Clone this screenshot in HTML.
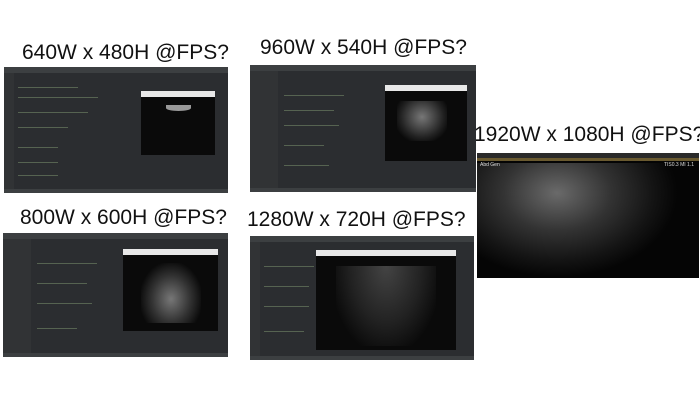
<!DOCTYPE html>
<html><head><meta charset="utf-8"><style>
body{margin:0;width:700px;height:400px;background:#fff;position:relative;overflow:hidden;font-family:"Liberation Sans",sans-serif}
.t{position:absolute;font-size:21px;color:#111;white-space:nowrap;line-height:1}
.s{position:absolute;background:#2b2d30;overflow:hidden}
.s .bar{position:absolute;left:0;right:0;top:0;height:6px;background:#3c3f41}
.s .side{position:absolute;left:0;top:6px;bottom:4px;width:10px;background:#313335}
.s .code{position:absolute;height:1px;background:#6a7a60;opacity:.7}
.s .foot{position:absolute;left:0;right:0;bottom:0;height:4px;background:#3c3f41}
.win{position:absolute;background:#0a0a0a;border-top:6px solid #e8e8e8}
.us{position:absolute;background:#050505;overflow:hidden}
</style></head><body>
<div class="t" style="left:22px;top:42px">640W x 480H @FPS?</div>
<div class="t" style="left:260px;top:37px">960W x 540H @FPS?</div>
<div class="t" style="left:474px;top:124px">1920W x 1080H @FPS?</div>
<div class="t" style="left:20px;top:207px">800W x 600H @FPS?</div>
<div class="t" style="left:247px;top:209px">1280W x 720H @FPS?</div>

<div class="s" style="left:4px;top:67px;width:224px;height:126px">
<div class="bar"></div><div class="side"></div><div class="foot"></div>
<div class="code" style="left:14px;top:20px;width:60px"></div><div class="code" style="left:14px;top:30px;width:80px"></div><div class="code" style="left:14px;top:45px;width:70px"></div><div class="code" style="left:14px;top:60px;width:50px"></div><div class="code" style="left:14px;top:80px;width:40px"></div><div class="code" style="left:14px;top:95px;width:40px"></div><div class="code" style="left:14px;top:108px;width:40px"></div>
<div class="win" style="left:137px;top:24px;width:74px;height:58px"><div style="position:absolute;left:25px;top:8px;width:25px;height:6px;border-radius:0 0 50% 50%;background:#999"></div></div>
</div>

<div class="s" style="left:250px;top:65px;width:226px;height:127px">
<div class="bar"></div><div class="side" style="width:28px"></div><div class="foot"></div>
<div class="code" style="left:34px;top:30px;width:60px"></div><div class="code" style="left:34px;top:45px;width:50px"></div><div class="code" style="left:34px;top:60px;width:55px"></div><div class="code" style="left:34px;top:80px;width:40px"></div><div class="code" style="left:34px;top:100px;width:45px"></div>
<div class="win" style="left:135px;top:20px;width:82px;height:70px"><div style="position:absolute;left:12px;top:10px;width:50px;height:40px;background:radial-gradient(ellipse at 50% 40%,#777,#222 60%,#0a0a0a 80%)"></div></div>
</div>

<div class="us" style="left:477px;top:153px;width:222px;height:125px">
<div style="position:absolute;left:0;right:0;top:0;height:5px;background:#2a2a2a"></div>
<div style="position:absolute;left:0;right:0;top:5px;height:3px;background:#6a5a30"></div>
<div style="position:absolute;left:0;top:10px;width:200px;height:120px;background:radial-gradient(ellipse 60% 70% at 40% 25%,#6a6a6a,#333 45%,#141414 80%,transparent 100%)"></div>
<div style="position:absolute;left:3px;top:9px;font-size:5px;color:#ddd">Abd Gen</div>
<div style="position:absolute;right:5px;top:9px;font-size:5px;color:#ddd">TIS0.3 MI 1.1</div>
</div>

<div class="s" style="left:3px;top:233px;width:225px;height:124px">
<div class="bar"></div><div class="side" style="width:28px"></div><div class="foot"></div>
<div class="code" style="left:34px;top:30px;width:60px"></div><div class="code" style="left:34px;top:50px;width:50px"></div><div class="code" style="left:34px;top:70px;width:55px"></div><div class="code" style="left:34px;top:95px;width:40px"></div>
<div class="win" style="left:120px;top:16px;width:95px;height:76px"><div style="position:absolute;left:18px;top:8px;width:60px;height:60px;background:radial-gradient(ellipse at 50% 60%,#777,#333 45%,#0a0a0a 75%)"></div></div>
</div>

<div class="s" style="left:250px;top:236px;width:224px;height:124px">
<div class="bar"></div><div class="side"></div><div class="foot"></div>
<div class="code" style="left:14px;top:30px;width:50px"></div><div class="code" style="left:14px;top:50px;width:45px"></div><div class="code" style="left:14px;top:70px;width:45px"></div><div class="code" style="left:14px;top:95px;width:40px"></div>
<div class="win" style="left:66px;top:14px;width:140px;height:94px"><div style="position:absolute;left:20px;top:10px;width:100px;height:80px;background:radial-gradient(ellipse at 50% 0%,#444,#222 50%,#0a0a0a 80%)"></div></div>
</div>
</body></html>
